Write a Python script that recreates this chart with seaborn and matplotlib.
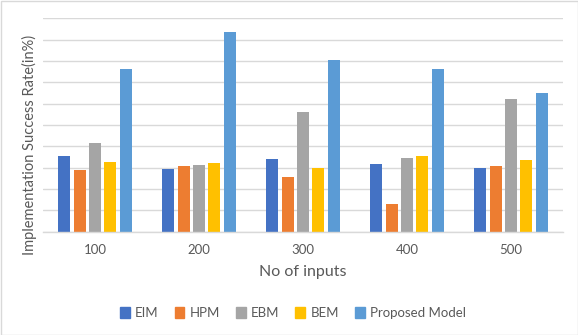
import matplotlib
matplotlib.use("Agg")
import matplotlib.pyplot as plt
import seaborn as sns
import pandas as pd
from matplotlib.patches import Rectangle

categories = ["100", "200", "300", "400", "500"]
series_names = ["EIM", "HPM", "EBM", "BEM", "Proposed Model"]
eim = [35.5, 29.2, 33.9, 31.9, 29.7]
hpm = [28.9, 30.7, 25.8, 13.1, 30.7]
ebm = [41.4, 31.1, 56.3, 34.4, 62.0]
bem = [32.7, 32.3, 29.7, 35.5, 33.6]
proposed = [76.4, 93.8, 80.3, 76.1, 64.9]
colors = ["#4472C4", "#ED7D31", "#A5A5A5", "#FFC000", "#5B9BD5"]

rows = []
for name, vals in zip(series_names, [eim, hpm, ebm, bem, proposed]):
    for c, v in zip(categories, vals):
        rows.append({"inputs": c, "series": name, "value": v})
df = pd.DataFrame(rows)

sns.set_theme(style="white")
plt.rcParams["font.family"] = ["Lato", "DejaVu Sans"]

fig = plt.figure(figsize=(5.78, 3.35), dpi=100)
ax = fig.add_axes([43 / 578, 1 - 231.7 / 335, (563 - 43) / 578, (231.7 - 18.3) / 335])

sns.barplot(data=df, x="inputs", y="value", hue="series", order=categories,
            hue_order=series_names, palette=colors, width=0.74, ax=ax,
            saturation=1, legend=False)

# shrink bars to leave small gaps between them
for p in ax.patches:
    w = p.get_width()
    cx = p.get_x() + w / 2
    nw = w * 0.78
    p.set_x(cx - nw / 2)
    p.set_width(nw)
    p.set_edgecolor("none")

ax.set_ylim(0, 100)
ax.set_yticks(range(0, 101, 10))
ax.set_yticklabels([])
ax.set_xlim(-0.5, 4.5)
ax.grid(axis="y", color="#D9D9D9", linewidth=1)
ax.set_axisbelow(True)
for s in ["top", "right", "left"]:
    ax.spines[s].set_visible(False)
ax.spines["bottom"].set_color("#D9D9D9")
ax.spines["bottom"].set_linewidth(1)
ax.tick_params(axis="x", length=0, pad=9, labelsize=9.5, labelcolor="#595959")
ax.tick_params(axis="y", length=0)
ax.set_xlabel("No of inputs", fontsize=11.5, color="#595959", labelpad=6)
ax.set_ylabel("Implementation Success Rate(in%)", fontsize=10.5, color="#595959")
ax.yaxis.set_label_coords(-0.012, (231.7 - 145) / (231.7 - 18.3))

handles = [Rectangle((0, 0), 1, 1, color=c) for c in colors]
fig.legend(handles, series_names, loc="center", bbox_to_anchor=(293 / 578, 1 - 313 / 335),
           ncol=5, frameon=False, fontsize=9.5, labelcolor="#595959",
           handlelength=0.75, handleheight=0.85, handletextpad=0.4, columnspacing=1.2)

fig.patches.append(Rectangle((0.5 / 578, 0.5 / 335), 1 - 1 / 578, 1 - 1 / 335,
                             transform=fig.transFigure, fill=False,
                             edgecolor="#D9D9D9", linewidth=1))

fig.savefig("out.png", dpi=100)
